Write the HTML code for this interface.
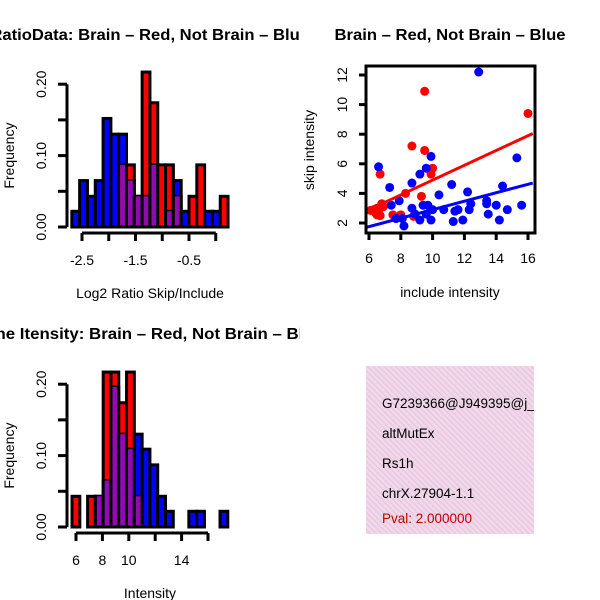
<!DOCTYPE html>
<html><head><meta charset="utf-8"><style>
body{margin:0;background:#fff}
svg{display:block;font-family:"Liberation Sans",sans-serif}
</style></head><body>
<svg id="s" width="600" height="600" viewBox="0 0 600 600">
<defs>
<pattern id="hatch" patternUnits="userSpaceOnUse" width="4" height="4" patternTransform="rotate(45)">
<rect width="4" height="4" fill="#a000c0"/><rect width="1.5" height="4" fill="#7a1a90"/></pattern>
<pattern id="pinkhatch" patternUnits="userSpaceOnUse" width="4" height="4" patternTransform="rotate(-45)">
<rect width="4" height="4" fill="#f7d4f2"/><rect width="1.3" height="4" fill="#dcd0d0"/></pattern>
<clipPath id="cl"><rect x="0" y="0" width="300" height="600"/></clipPath>
<clipPath id="cbox"><rect x="366" y="366" width="168" height="168"/></clipPath>
</defs>
<g clip-path="url(#cl)">
<text x="309" y="40" text-anchor="end" font-size="16" font-weight="bold" textLength="363" lengthAdjust="spacingAndGlyphs">Log2 RatioData: Brain – Red, Not Brain – Blue</text>
<text x="323" y="339" text-anchor="end" font-size="16" font-weight="bold" textLength="350" lengthAdjust="spacingAndGlyphs">Gene Itensity: Brain – Red, Not Brain – Blue</text>
</g>
<text x="450" y="40" text-anchor="middle" font-size="16" font-weight="bold" textLength="231" lengthAdjust="spacingAndGlyphs">Brain – Red, Not Brain – Blue</text>
<g id="g1"></g><g id="g2"></g><g id="g3"></g>
<rect x="366" y="366" width="168" height="168" fill="url(#pinkhatch)"/>
<g clip-path="url(#cbox)" font-size="13.5">
<text x="382" y="408">G7239366@J949395@j_</text>
<text x="382" y="438">altMutEx</text>
<text x="382" y="468">Rs1h</text>
<text x="382" y="498">chrX.27904-1.1</text>
<text x="382" y="523" fill="#c00000">Pval: 2.000000</text>
</g>
</svg>
<script>
const ratioBinStart=-2.69, ratioBinWidth=0.146;
const ratioBlue=[.022,.065,.043,.065,.152,.13,.13,.065,.043,.043,.087,0,.022,.065,.022,0,0,.022,.022,0];
const ratioRed=[0,0,0,0,0,0,.087,.087,.043,.217,.174,.087,.087,.043,0,.043,.087,0,0,.043];
const ratioXTicks=[-2.5,-2,-1.5,-1,-0.5,0];
const ratioXLabels=["-2.5","","-1.5","","-0.5",""];
const intBinStart=5.7, intBinWidth=0.59;
const intBlue=[0,0,0,.043,.065,.196,.13,.109,.13,.109,.087,.043,.022,0,0,.022,.022,0,0,.022];
const intRed=[.043,0,.043,.043,.217,.217,.174,.217,.043,0,0,0,0,0,0,0,0,0,0,0];
const intXTicks=[6,8,10,12,14,16];
const intXLabels=["6","8","10","","14",""];
const yTicks=[0,0.05,0.10,0.15,0.20];
const yLabels=["0.00","","0.10","","0.20"];
const blueX=[6.6,7.3,7.4,7.9,7.7,8.2,8.1,8.7,8.7,9.2,8.9,9.2,9.4,9.6,9.7,9.9,9.9,10,9.6,10.4,10.7,11.2,11.3,11.4,11.6,11.9,12.2,12.3,12.4,12.9,13.4,13.4,13.5,14.0,14.2,14.4,14.7,15.3,15.6];
const blueY=[5.8,4.4,3.2,3.5,2.3,1.8,2.3,4.7,3.0,5.3,2.6,2.2,3.2,5.7,3.2,6.5,2.2,2.9,2.6,3.9,2.9,4.6,2.1,2.8,2.9,2.2,4.1,2.9,3.3,12.2,3.5,3.3,2.6,3.2,2.2,4.5,2.9,6.4,3.2];
const redX=[6.1,6.4,6.5,6.7,6.7,6.8,6.9,7.5,8.0,8.3,8.7,9.3,9.5,9.5,10.0,9.9,16.0,6.5,8.8,6.3,6.6];
const redY=[2.85,2.7,2.55,2.5,5.3,3.3,3.1,2.55,2.55,4.0,7.2,3.8,10.9,6.9,5.7,5.3,9.4,3.0,2.45,2.9,2.7];
const redFit=[-0.1,0.5], blueFit=[0.04,0.286];
const scXTicks=[6,8,10,12,14,16], scYTicks=[2,4,6,8,10,12];
const NS="http://www.w3.org/2000/svg";
const FS=14;
function mk(p,t,a){const e=document.createElementNS(NS,t);for(const k in a)e.setAttribute(k,a[k]);p.appendChild(e);return e;}
function hist(g,x0,y0,start,w,blue,red,xs,sx,xt,xl,ylab,ttl,axisY){
  const X=v=>x0+(v-xs)*sx, Y=v=>y0-v*714;
  for(let i=0;i<blue.length;i++){
    const a=start+i*w,b=a+w, hb=blue[i], hr=red[i];
    const order=hr>=hb?[[hr,'#ff0000'],[hb,'#0000ff']]:[[hb,'#0000ff'],[hr,'#ff0000']];
    for(const [h,c] of order){ if(h<=0)continue;
      const r=mk(g,'rect',{x:X(a),y:Y(h),width:X(b)-X(a),height:Y(0)-Y(h),fill:c,stroke:'#000','stroke-width':3});
      
      }
    const m=Math.min(hb,hr);
    if(m>0){const r=mk(g,'rect',{x:X(a)+1.5,y:Y(m),width:X(b)-X(a)-3,height:Y(0)-Y(m)-1.5,fill:'url(#hatch)'});
      
      }
  }
  const ya=mk(g,'line',{x1:67,x2:67,y1:Y(0),y2:Y(0.2),stroke:'#000','stroke-width':3});
  
  
  yTicks.forEach((t,i)=>{mk(g,'line',{x1:58,x2:67,y1:Y(t),y2:Y(t),stroke:'#000','stroke-width':3});
    if(yLabels[i]){const tx=mk(g,'text',{x:0,y:0,transform:`translate(46,${Y(t)}) rotate(-90)`,'text-anchor':'middle','font-size':FS});tx.textContent=yLabels[i];
      
      }});
  const xa=mk(g,'line',{x1:X(xt[0]),x2:X(xt[xt.length-1]),y1:axisY,y2:axisY,stroke:'#000','stroke-width':3});
  
  
  xt.forEach((t,i)=>{mk(g,'line',{x1:X(t),x2:X(t),y1:axisY,y2:axisY+8,stroke:'#000','stroke-width':3});
    if(xl[i]){const tx=mk(g,'text',{x:X(t),y:axisY+32,'text-anchor':'middle','font-size':FS});tx.textContent=xl[i];
      
      }});
  const yt=mk(g,'text',{x:0,y:0,transform:`translate(14,${Y(0.1)}) rotate(-90)`,'text-anchor':'middle','font-size':FS});yt.textContent='Frequency';
  
  
  const xtt=mk(g,'text',{x:150,y:axisY+65,'text-anchor':'middle','font-size':FS});xtt.textContent=ttl;
  
  
}
hist(document.getElementById('g1'),82,227,ratioBinStart,ratioBinWidth,ratioBlue,ratioRed,-2.5,53.5,ratioXTicks,ratioXLabels,'Frequency','Log2 Ratio Skip/Include',233);
hist(document.getElementById('g2'),76,527,intBinStart,intBinWidth,intBlue,intRed,6,13.2,intXTicks,intXLabels,'Frequency','Intensity',533);
(function(){
  const g=document.getElementById('g3');
  const X=v=>369+(v-6)*15.9, Y=v=>223-(v-2)*14.8;
  redX.forEach((v,i)=>{const c=mk(g,'circle',{cx:X(v),cy:Y(redY[i]),r:4.5,fill:'#ff0000'});
    
    });
  blueX.forEach((v,i)=>{const c=mk(g,'circle',{cx:X(v),cy:Y(blueY[i]),r:4.5,fill:'#0000ff'});
    
    });
  const xa=5.8,xb=16.3;
  [[redFit,'#ff0000','fit-line-brain'],[blueFit,'#0000ff','fit-line-not-brain']].forEach(([f,c,n])=>{
    const l=mk(g,'line',{x1:X(xa),y1:Y(f[0]+f[1]*xa),x2:X(xb),y2:Y(f[0]+f[1]*xb),stroke:c,'stroke-width':3});
    
    });
  const fr=mk(g,'rect',{x:366,y:66,width:169,height:167,fill:'none',stroke:'#000','stroke-width':3});
  
  
  scXTicks.forEach(t=>{mk(g,'line',{x1:X(t),x2:X(t),y1:233,y2:240,stroke:'#000','stroke-width':3});
    const tx=mk(g,'text',{x:X(t),y:263,'text-anchor':'middle','font-size':FS});tx.textContent=t;
    
    });
  scYTicks.forEach(t=>{mk(g,'line',{x1:359,x2:366,y1:Y(t),y2:Y(t),stroke:'#000','stroke-width':3});
    const tx=mk(g,'text',{x:0,y:0,transform:`translate(347,${Y(t)}) rotate(-90)`,'text-anchor':'middle','font-size':FS});tx.textContent=t;
    
    });
  const xt=mk(g,'text',{x:450,y:297,'text-anchor':'middle','font-size':FS});xt.textContent='include intensity';
  
  
  const yt=mk(g,'text',{x:0,y:0,transform:'translate(314,150) rotate(-90)','text-anchor':'middle','font-size':FS});yt.textContent='skip intensity';
  
  
})();
</script>
</body></html>
